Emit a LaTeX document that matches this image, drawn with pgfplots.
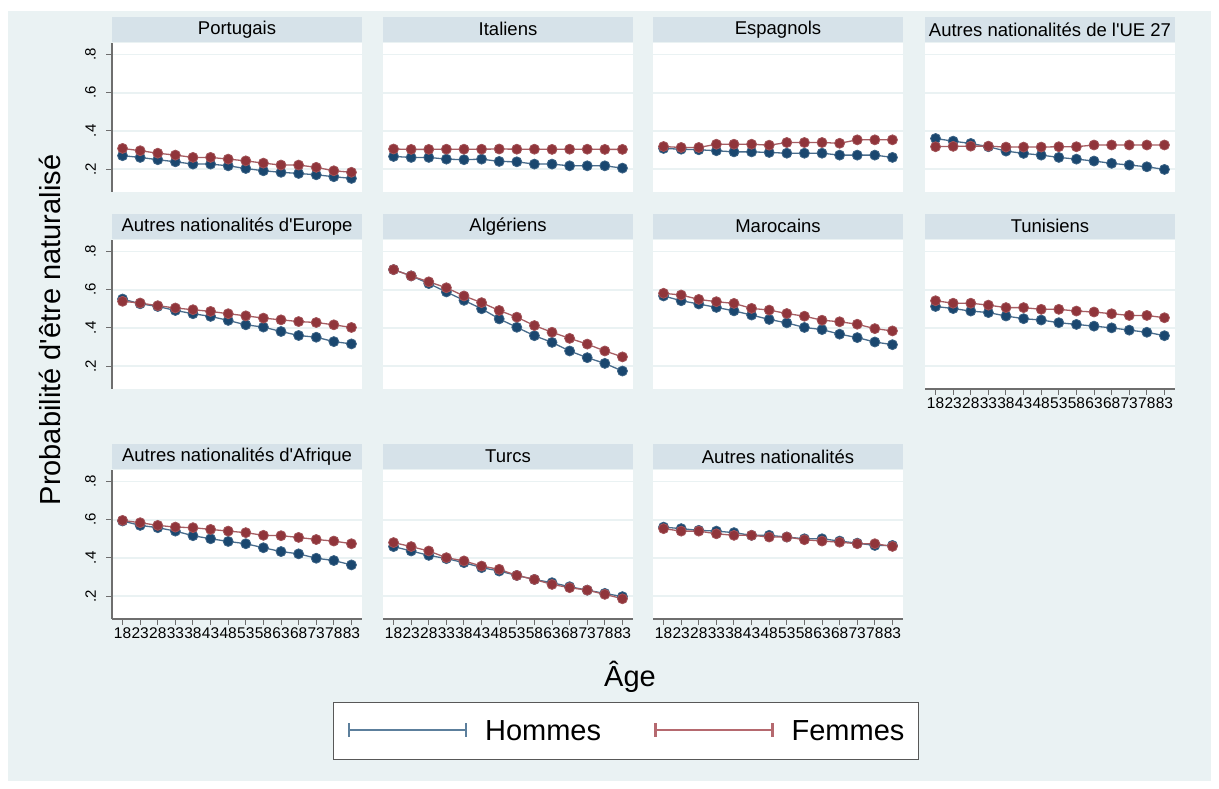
\documentclass[border=0pt]{standalone}
\usepackage{fontspec}
\setmainfont{Liberation Sans}
\usepackage{pgfplots}
\usepackage{pgfplotstable}
\pgfplotsset{compat=1.18}

\definecolor{bg}{RGB}{234,242,243}
\definecolor{strip}{RGB}{214,226,233}
\definecolor{gridc}{RGB}{234,242,243}
\definecolor{hom}{RGB}{26,71,111}
\definecolor{fem}{RGB}{144,53,59}
\definecolor{homl}{RGB}{92,127,156}
\definecolor{feml}{RGB}{181,105,111}
\definecolor{axc}{RGB}{110,110,110}

% age, hommes, femmes
\pgfplotstableread{
age h f
18 0.270 0.308
23 0.261 0.296
28 0.249 0.283
33 0.238 0.273
38 0.226 0.261
43 0.226 0.261
48 0.217 0.252
53 0.203 0.243
58 0.191 0.231
63 0.183 0.221
68 0.177 0.221
73 0.170 0.209
78 0.160 0.191
83 0.151 0.183
}\tPor
\pgfplotstableread{
age h f
18 0.266 0.305
23 0.261 0.303
28 0.261 0.303
33 0.252 0.304
38 0.249 0.304
43 0.252 0.304
48 0.240 0.305
53 0.238 0.304
58 0.226 0.304
63 0.226 0.303
68 0.217 0.304
73 0.217 0.304
78 0.217 0.303
83 0.205 0.303
}\tIta
\pgfplotstableread{
age h f
18 0.308 0.318
23 0.304 0.313
28 0.301 0.313
33 0.296 0.330
38 0.290 0.330
43 0.290 0.330
48 0.287 0.325
53 0.283 0.339
58 0.283 0.339
63 0.283 0.339
68 0.273 0.335
73 0.273 0.353
78 0.273 0.353
83 0.261 0.353
}\tEsp
\pgfplotstableread{
age h f
18 0.360 0.317
23 0.346 0.319
28 0.334 0.320
33 0.317 0.320
38 0.294 0.315
43 0.282 0.315
48 0.273 0.315
53 0.261 0.317
58 0.252 0.317
63 0.242 0.326
68 0.230 0.326
73 0.221 0.326
78 0.212 0.326
83 0.198 0.326
}\tUE
\pgfplotstableread{
age h f
18 0.551 0.539
23 0.526 0.530
28 0.512 0.516
33 0.491 0.504
38 0.474 0.495
43 0.460 0.486
48 0.439 0.474
53 0.416 0.463
58 0.404 0.451
63 0.381 0.442
68 0.360 0.433
73 0.351 0.428
78 0.328 0.416
83 0.316 0.402
}\tEur
\pgfplotstableread{
age h f
18 0.705 0.705
23 0.672 0.672
28 0.632 0.641
33 0.588 0.610
38 0.544 0.567
43 0.500 0.532
48 0.447 0.491
53 0.403 0.456
58 0.359 0.412
63 0.324 0.377
68 0.279 0.345
73 0.244 0.315
78 0.214 0.279
83 0.174 0.248
}\tAlg
\pgfplotstableread{
age h f
18 0.567 0.581
23 0.542 0.572
28 0.525 0.549
33 0.507 0.537
38 0.489 0.528
43 0.467 0.502
48 0.444 0.493
53 0.426 0.475
58 0.402 0.461
63 0.391 0.440
68 0.367 0.432
73 0.349 0.419
78 0.326 0.396
83 0.312 0.384
}\tMar
\pgfplotstableread{
age h f
18 0.512 0.542
23 0.501 0.529
28 0.488 0.529
33 0.480 0.519
38 0.462 0.506
43 0.448 0.506
48 0.441 0.497
53 0.427 0.497
58 0.418 0.488
63 0.409 0.483
68 0.400 0.474
73 0.388 0.465
78 0.377 0.465
83 0.359 0.453
}\tTun
\pgfplotstableread{
age h f
18 0.593 0.596
23 0.570 0.584
28 0.558 0.570
33 0.540 0.561
38 0.516 0.558
43 0.500 0.549
48 0.486 0.540
53 0.474 0.532
58 0.453 0.518
63 0.433 0.516
68 0.421 0.507
73 0.398 0.496
78 0.386 0.488
83 0.363 0.474
}\tAfr
\pgfplotstableread{
age h f
18 0.459 0.480
23 0.436 0.459
28 0.413 0.436
33 0.396 0.401
38 0.375 0.384
43 0.349 0.357
48 0.331 0.340
53 0.308 0.308
58 0.287 0.287
63 0.270 0.261
68 0.249 0.244
73 0.231 0.231
78 0.214 0.209
83 0.197 0.186
}\tTur
\pgfplotstableread{
age h f
18 0.561 0.553
23 0.553 0.540
28 0.544 0.540
33 0.540 0.526
38 0.532 0.518
43 0.518 0.518
48 0.518 0.509
53 0.509 0.509
58 0.500 0.495
63 0.500 0.488
68 0.488 0.482
73 0.477 0.474
78 0.465 0.474
83 0.465 0.460
}\tAut

\pgfplotsset{
  panel/.style={
    scale only axis, width=250pt, height=149pt, anchor=south west,
    xmin=15, xmax=86, ymin=0.08, ymax=0.86,
    axis x line*=bottom, axis y line*=left,
    axis line style={axc, line width=1.6pt},
    tick align=outside, major tick length=6pt,
    tick style={axc, line width=1pt},
    xtick={18,23,...,83}, ytick={0.2,0.4,0.6,0.8}, yticklabels={.2,.4,.6,.8},
    ymajorgrids, grid style={gridc, line width=1.8pt},
    axis background/.style={fill=white},
    /pgf/number format/assume math mode=true,
    xticklabel style={font=\fontsize{15.5}{16}\selectfont, inner sep=2pt},
    yticklabel style={font=\fontsize{15}{16}\selectfont, rotate=90, anchor=south, inner sep=10pt},
    title style={at={(0.5,1)}, anchor=south, yshift=-5pt, fill=strip,
      minimum width=250pt, minimum height=25pt, inner sep=0pt,
      font=\fontsize{18.5}{20}\selectfont},
    clip=false,
  },
  noy/.style={y axis line style={draw=none}, ytick style={draw=none}, yticklabels={}},
  nox/.style={x axis line style={draw=none}, xtick style={draw=none}, xticklabels={}},
  hplot/.style={hom!80!white, line width=1.3pt, mark=*, mark size=5pt,
    mark options={fill=hom, draw=hom!85!white, line width=0.8pt}},
  fplot/.style={fem!80!white, line width=1.3pt, mark=*, mark size=5pt,
    mark options={fill=fem, draw=fem!85!white, line width=0.8pt}},
}

\newcommand{\panel}[5]{%
  \begin{axis}[panel, at={(#1pt,#2pt)}, title={#3}, #5]
    \addplot[hplot] table[x=age, y=h] {#4};
    \addplot[fplot] table[x=age, y=f] {#4};
  \end{axis}}

\begin{document}
\begin{tikzpicture}
\fill[white] (0pt,0pt) rectangle (1219pt,789pt);
\useasboundingbox (0pt,0pt) rectangle (1219pt,789pt);
\fill[bg] (8pt,8pt) rectangle (1211pt,778pt);

% row 1
\panel{112}{597}{Portugais}{\tPor}{nox}
\panel{383}{597}{Italiens}{\tIta}{nox,noy}
\panel{653}{597}{Espagnols}{\tEsp}{nox,noy}
\panel{925}{597}{Autres nationalités de l\textquotesingle UE 27}{\tUE}{nox,noy}
% row 2
\panel{112}{400}{Autres nationalités d\textquotesingle Europe}{\tEur}{nox}
\panel{383}{400}{Algériens}{\tAlg}{nox,noy}
\panel{653}{400}{Marocains}{\tMar}{nox,noy}
\panel{925}{400}{Tunisiens}{\tTun}{noy}
% row 3
\panel{112}{170}{Autres nationalités d\textquotesingle Afrique}{\tAfr}{}
\panel{383}{170}{Turcs}{\tTur}{noy}
\panel{653}{170}{Autres nationalités}{\tAut}{noy}

\node[font=\fontsize{29}{32}\selectfont] at (630pt,112pt) {Âge};
\node[font=\fontsize{29}{32}\selectfont, rotate=90] at (50pt,459pt) {Probabilité d\textquotesingle être naturalisé};

\begin{axis}[at={(626pt,58pt)}, anchor=center, hide axis, scale only axis,
  width=20pt, height=20pt, xmin=0, xmax=1, ymin=0, ymax=1,
  legend columns=2,
  legend style={at={(0.5,0.5)}, anchor=center, draw=axc!80!black, line width=1.5pt,
    fill=white, font=\fontsize{29}{32}\selectfont, inner xsep=14pt, inner ysep=18pt,
    nodes={inner sep=0pt},
    /tikz/every odd column/.append style={column sep=18pt},
    /tikz/every even column/.append style={column sep=53pt}},
  legend image code/.code={
    \draw[#1] (0pt,1pt) -- (117pt,1pt);
    \draw[#1] (0pt,-6pt) -- (0pt,8pt);
    \draw[#1] (117pt,-6pt) -- (117pt,8pt);}]
\addlegendimage{homl, line width=2.5pt}\addlegendentry{Hommes}
\addlegendimage{feml, line width=2.5pt}\addlegendentry{Femmes}
\end{axis}
\end{tikzpicture}
\end{document}
